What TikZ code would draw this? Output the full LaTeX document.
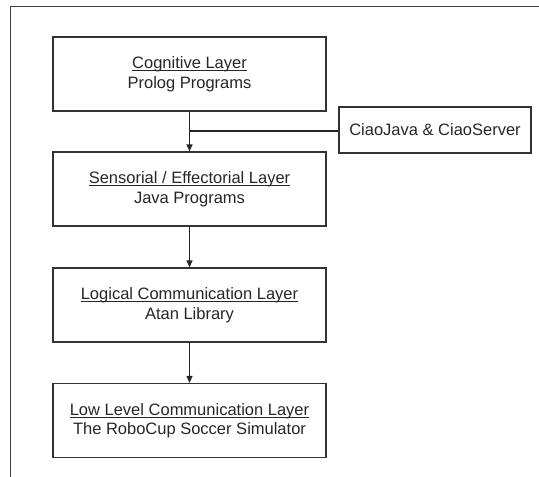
\documentclass[tikz,border=0pt]{standalone}
\usepackage{fontspec}
\setmainfont{Liberation Sans}
\usetikzlibrary{arrows.meta}
\newcommand{\ulin}[1]{\setbox0\hbox{#1}\rlap{\rule[-2.4pt]{\wd0}{0.8pt}}\box0}
\begin{document}
\begin{tikzpicture}[x=1pt,y=-1pt,
  layerbox/.style={draw=black!80, line width=1.1pt, minimum width=273pt, minimum height=74pt,
    align=center, inner sep=0pt, text=black!85, font=\fontsize{16.5}{19.5}\selectfont},
  sidebox/.style={draw=black!80, line width=1.1pt, minimum width=192pt, minimum height=46pt,
    inner sep=0pt, text=black!85, font=\fontsize{16.5}{19.5}\selectfont},
  conn/.style={draw=black!85, line width=1.1pt},
  arr/.style={conn, -{Triangle[length=7pt,width=6pt]}}]
\useasboundingbox (0,0) rectangle (539,477);
\draw[draw=black!75, line width=1.2pt] (10.5,477) -- (10.5,6.5) -- (539,6.5);
\node[layerbox] (cog) at (189.5,74) {\ulin{Cognitive Layer}\\Prolog Programs};
\node[layerbox] (sen) at (189.5,189) {\ulin{Sensorial / Effectorial Layer}\\Java Programs};
\node[layerbox] (log) at (189.5,305) {\ulin{Logical Communication Layer}\\Atan Library};
\node[layerbox] (low) at (189.5,420.5) {\ulin{Low Level Communication Layer}\\The RoboCup Soccer Simulator};
\node[sidebox] (ciao) at (435,130) {CiaoJava \& CiaoServer};
\coordinate (j) at (189.5,131);
\draw[arr] (cog) -- (sen);
\draw[conn] (ciao.west |- j) -- (j);
\draw[arr] (sen) -- (log);
\draw[arr] (log) -- (low);
\end{tikzpicture}
\end{document}
